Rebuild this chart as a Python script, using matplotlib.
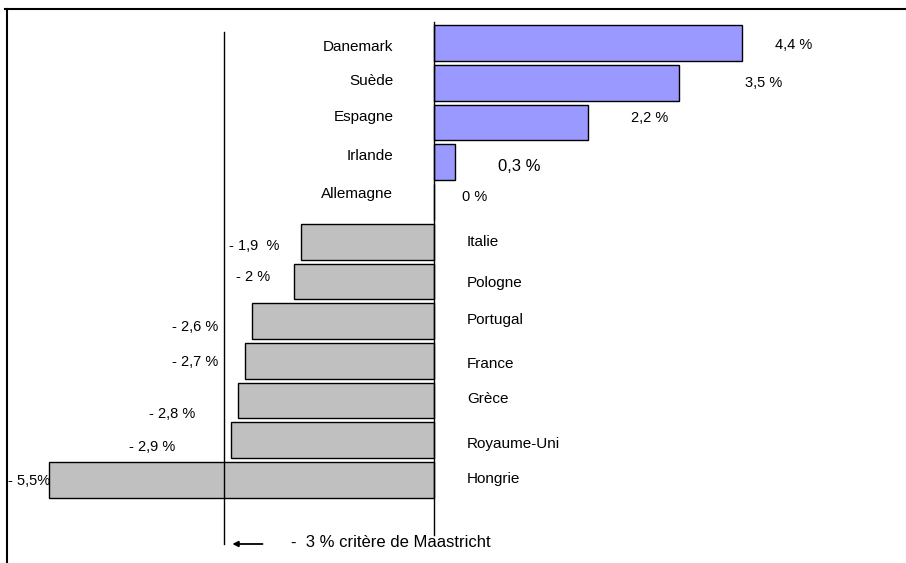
import matplotlib.pyplot as plt
from matplotlib.lines import Line2D

plt.rcParams['font.family'] = ['Liberation Sans', 'DejaVu Sans']

countries = ['Danemark', 'Suède', 'Espagne', 'Irlande', 'Allemagne',
             'Italie', 'Pologne', 'Portugal', 'France', 'Grèce',
             'Royaume-Uni', 'Hongrie']
values = [4.4, 3.5, 2.2, 0.3, 0.0,
          -1.9, -2.0, -2.6, -2.7, -2.8, -2.9, -5.5]
value_labels = ['4,4 %', '3,5 %', '2,2 %', '0,3 %', '0 %',
                '- 1,9  %', '- 2 %', '- 2,6 %', '- 2,7 %', '- 2,8 %',
                '- 2,9 %', '- 5,5%']
criterion = -3.0
criterion_text = '-  3 % critère de Maastricht'

# label placement (x in value units, y offset in rows)
name_x = [-0.58] * 5 + [0.47] * 7
name_dy = [0.1, -0.05, -0.15, -0.15, -0.2,
           0.0, 0.03, -0.03, 0.08, -0.05, 0.1, -0.03]
val_x = [4.87, 4.44, 2.81, 0.91, 0.4,
         -2.93, -2.83, -3.74, -3.74, -4.07, -4.36, -6.09]
val_dy = [0.05, 0.0, -0.12, 0.12, -0.12,
          0.1, -0.1, 0.15, 0.03, 0.33, 0.18, 0.03]
val_size = [10.5, 10.5, 10.5, 12, 10.5, 10.5, 10.5, 10.5, 10.5, 10.5, 10.5, 10.5]

fig = plt.figure(figsize=(9.06, 5.63), dpi=100)
ax = fig.add_axes((0, 0, 1, 1))

rows = list(range(len(countries)))
colors = ['#9999ff' if v > 0 else '#c0c0c0' for v in values]
ax.barh(rows, values, height=0.9, color=colors, edgecolor='black',
        linewidth=1.0, zorder=2)

for i, name in enumerate(countries):
    ha = 'right' if i < 5 else 'left'
    ax.text(name_x[i], i + name_dy[i], name, ha=ha, va='center',
            fontsize=11)
    ax.text(val_x[i], i + val_dy[i], value_labels[i], ha='left',
            va='center', fontsize=val_size[i])

# zero line and -3 % criterion line
ax.plot([0, 0], [-0.53, 12.38], color='black', lw=1.0, zorder=3)
ax.plot([criterion, criterion], [-0.28, 12.61], color='black', lw=1.0,
        zorder=3)
ax.annotate('', xy=(criterion + 0.12, 12.61), xytext=(criterion + 0.55, 12.61),
            arrowprops=dict(arrowstyle='-|>', color='black', lw=1.3,
                            mutation_scale=8, shrinkA=0, shrinkB=0))
ax.text(criterion + 0.96, 12.57, criterion_text, ha='left', va='center',
        fontsize=12)

ax.set_xlim(-434 / 70, (906 - 434) / 70)
ax.set_ylim((563 - 43) / 39.73, -43 / 39.73)
ax.axis('off')

# outer frame (partly cut off in the picture)
fig.add_artist(Line2D([5 / 906, 1], [1 - 9 / 563, 1 - 9 / 563],
                      color='black', lw=1.5))
fig.add_artist(Line2D([7 / 906, 7 / 906], [0, 1 - 9 / 563],
                      color='black', lw=1.5))

fig.savefig('out.png', dpi=100)
